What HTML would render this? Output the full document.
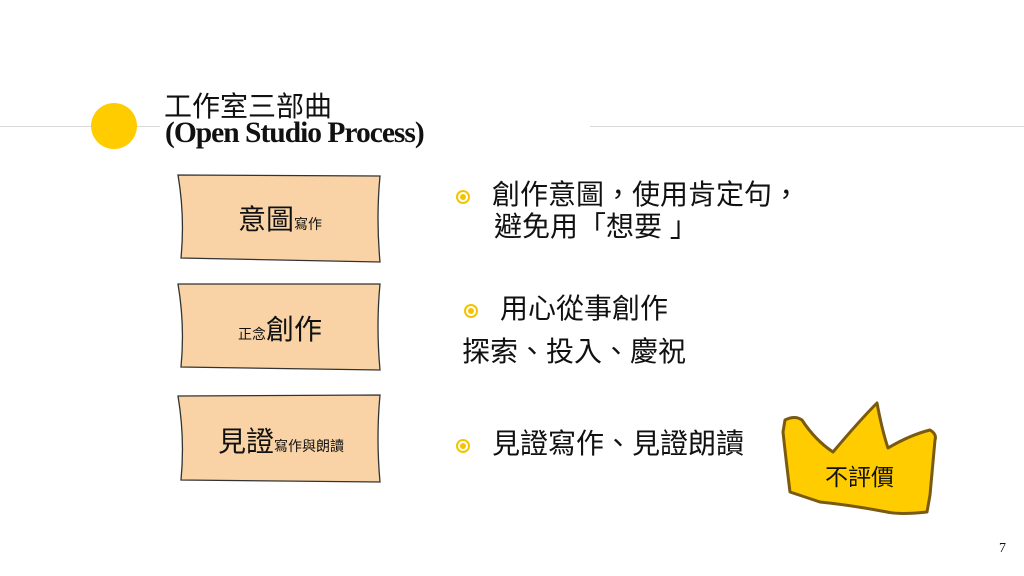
<html><head><style>
body{margin:0;width:1024px;height:576px;background:#fff;position:relative;overflow:hidden;font-family:"Liberation Sans","Noto Sans CJK TC",sans-serif;color:#111}
.a{position:absolute;white-space:nowrap}
.b{font-size:28px}
.bul{display:inline-block;width:14px;height:14px;border-radius:50%;border:2px solid #f5c400;box-sizing:border-box;position:relative;vertical-align:middle;margin-right:22px}
.bul:after{content:"";position:absolute;left:2px;top:2px;width:6px;height:6px;border-radius:50%;background:#f5c400}
</style></head><body>
<div class="a" style="left:0;top:126px;width:160px;height:1px;background:#d9d9d9"></div>
<div class="a" style="left:590px;top:126px;width:434px;height:1px;background:#d9d9d9"></div>
<div class="a" style="left:91px;top:103px;width:46px;height:46px;border-radius:50%;background:#ffcc00"></div>
<div class="a" style="left:164px;top:85px;font-size:28px">工作室三部曲</div>
<div class="a" style="left:165px;top:117px;font-size:29.5px;font-weight:bold;font-family:'Liberation Serif',serif;letter-spacing:-1px">(Open Studio Process)</div>
<svg class="a" style="left:0;top:0" width="1024" height="576">
<g fill="#f9d3a5" stroke="#333" stroke-width="1.3">
<path d="M178,175 L380,176 Q376,218 380,262 L181,258 Q185,216 178,175Z"/>
<path d="M178,284 L380,284 Q376,326 380,370 L181,367 Q185,325 178,284Z"/>
<path d="M178,396 L380,395 Q376,438 380,482 L181,480 Q185,438 178,396Z"/>
</g>
<path d="M785,420 Q795,415 802,420 Q815,440 833,452 Q860,420 877,403 Q882,430 888,448 Q910,435 930,430 Q937,434 935,440 L930,495 L927,512 Q900,515 887,512 Q850,505 820,502 L790,492 Q786,460 783,432Z" fill="#ffcc00" stroke="#7a5a10" stroke-width="3" stroke-linejoin="round"/>
</svg>
<div class="a" style="left:238px;top:198px;font-size:28px">意圖<span style="font-size:14px">寫作</span></div>
<div class="a" style="left:238px;top:308px;font-size:28px"><span style="font-size:14px">正念</span>創作</div>
<div class="a" style="left:218px;top:420px;font-size:28px">見證<span style="font-size:14px">寫作與朗讀</span></div>
<div class="a b" style="left:456px;top:173px"><span class="bul"></span>創作意圖，使用肯定句，</div>
<div class="a b" style="left:494px;top:205px">避免用「想要 」</div>
<div class="a b" style="left:464px;top:287px"><span class="bul"></span>用心從事創作</div>
<div class="a b" style="left:462px;top:330px">探索、投入、慶祝</div>
<div class="a b" style="left:456px;top:422px"><span class="bul"></span>見證寫作、見證朗讀</div>
<div class="a" style="left:825px;top:458px;font-size:23px">不評價</div>
<div class="a" style="left:999px;top:541px;font-size:14px;font-family:'Liberation Serif',serif">7</div>
</body></html>
